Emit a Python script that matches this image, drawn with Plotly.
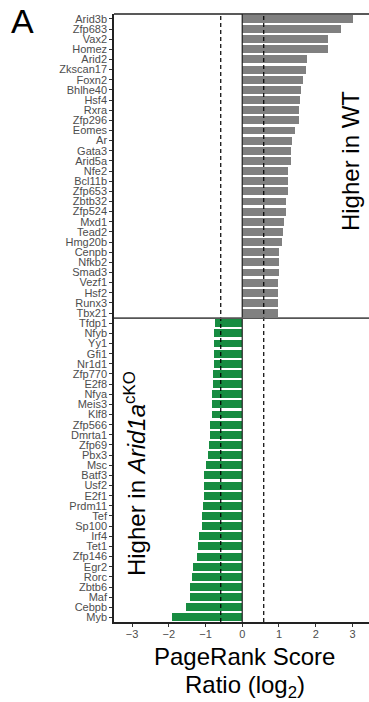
import plotly.graph_objects as go

# ---- data ----
wt_genes = ["Arid3b", "Zfp683", "Vax2", "Homez", "Arid2", "Zkscan17", "Foxn2", "Bhlhe40",
            "Hsf4", "Rxra", "Zfp296", "Eomes", "Ar", "Gata3", "Arid5a", "Nfe2", "Bcl11b",
            "Zfp653", "Zbtb32", "Zfp524", "Mxd1", "Tead2", "Hmg20b", "Cenpb", "Nfkb2",
            "Smad3", "Vezf1", "Hsf2", "Runx3", "Tbx21"]
wt_values = [3.02, 2.69, 2.33, 2.33, 1.77, 1.74, 1.65, 1.61, 1.56, 1.55, 1.54, 1.43, 1.35,
             1.34, 1.34, 1.25, 1.25, 1.25, 1.20, 1.20, 1.14, 1.10, 1.07, 1.01, 0.99, 0.99,
             0.96, 0.96, 0.96, 0.96]
ko_genes = ["Tfdp1", "Nfyb", "Yy1", "Gfi1", "Nr1d1", "Zfp770", "E2f8", "Nfya", "Meis3", "Klf8",
            "Zfp566", "Dmrta1", "Zfp69", "Pbx3", "Msc", "Batf3", "Usf2", "E2f1", "Prdm11",
            "Tef", "Sp100", "Irf4", "Tet1", "Zfp146", "Egr2", "Rorc", "Zbtb6", "Maf", "Cebpb",
            "Myb"]
ko_values = [-0.74, -0.76, -0.77, -0.77, -0.78, -0.79, -0.80, -0.81, -0.82, -0.82, -0.88,
             -0.89, -0.91, -0.92, -0.98, -1.04, -1.04, -1.05, -1.06, -1.10, -1.10, -1.17,
             -1.20, -1.23, -1.34, -1.37, -1.41, -1.43, -1.52, -1.90]
x_ticks = [-3, -2, -1, 0, 1, 2, 3]
threshold = 0.585  # log2(1.5)

all_genes = wt_genes + ko_genes
FONT = "Liberation Sans, Arial, Helvetica, sans-serif"

fig = go.Figure()
fig.add_trace(go.Bar(x=wt_values, y=wt_genes, orientation="h", width=0.78,
                     marker=dict(color="#808080", line=dict(width=0)), showlegend=False))
fig.add_trace(go.Bar(x=ko_values, y=ko_genes, orientation="h", width=0.78,
                     marker=dict(color="#178C41", line=dict(width=0)), showlegend=False))

shapes = [
    dict(type="line", xref="x", yref="paper", x0=-threshold, x1=-threshold, y0=0, y1=1,
         line=dict(color="black", width=1.2, dash="4px,3px")),
    dict(type="line", xref="x", yref="paper", x0=threshold, x1=threshold, y0=0, y1=1,
         line=dict(color="black", width=1.2, dash="4px,3px")),
    dict(type="line", xref="x", yref="paper", x0=0, x1=0, y0=0, y1=1,
         line=dict(color="#222222", width=1.2)),
    dict(type="line", xref="paper", yref="y", x0=0, x1=1, y0=len(wt_genes) - 0.5,
         y1=len(wt_genes) - 0.5, line=dict(color="#555555", width=1.8)),
    dict(type="line", xref="paper", yref="paper", x0=0, x1=1, y0=1, y1=1,
         line=dict(color="#222222", width=1.5)),
]

annotations = [
    dict(text="A", xref="paper", yref="paper", x=-0.41, y=1.0, xanchor="left", yanchor="top",
         yshift=14, showarrow=False, font=dict(family=FONT, size=34, color="black")),
    dict(text="Higher in WT", xref="paper", yref="y", x=0.93, y=14, textangle=-90,
         xanchor="center", yanchor="middle", showarrow=False,
         font=dict(family=FONT, size=24, color="black")),
    dict(text="Higher in <i>Arid1a</i><sup>cKO</sup>", xref="paper", yref="paper", x=0.08,
         y=0.244, textangle=-90, xanchor="center", yanchor="middle", showarrow=False,
         font=dict(family=FONT, size=24, color="black")),
    dict(text="PageRank Score", xref="x", yref="paper", x=0.07, y=0,
         xanchor="center", yanchor="middle", yshift=-34, showarrow=False,
         font=dict(family=FONT, size=24, color="black")),
    dict(text="Ratio (log<sub>2</sub>)", xref="x", yref="paper", x=0.07, y=0,
         xanchor="center", yanchor="middle", yshift=-64, showarrow=False,
         font=dict(family=FONT, size=24, color="black")),
]

fig.update_layout(
    width=369, height=702,
    margin=dict(l=114, r=0, t=14, b=80, pad=0),
    plot_bgcolor="white", paper_bgcolor="white",
    bargap=0, barmode="overlay",
    shapes=shapes, annotations=annotations,
    xaxis=dict(range=[-3.49, 3.45], tickvals=x_ticks, showgrid=False, zeroline=False,
               showline=True, linecolor="#222222", linewidth=1.5, ticks="outside", ticklen=3,
               ticklabelstandoff=-2,
               tickcolor="#333333", tickfont=dict(family=FONT, size=11, color="#4D4D4D")),
    yaxis=dict(type="category", categoryorder="array", categoryarray=all_genes,
               tickmode="array", tickvals=all_genes, ticktext=all_genes,
               range=[len(all_genes) - 0.55, -0.48], showgrid=False, zeroline=False,
               showline=True, linecolor="#222222", linewidth=1.5, ticks="outside", ticklen=3,
               tickcolor="#333333", tickfont=dict(family=FONT, size=11, color="#4D4D4D")),
    font=dict(family=FONT),
)

fig.write_html("out.html")
